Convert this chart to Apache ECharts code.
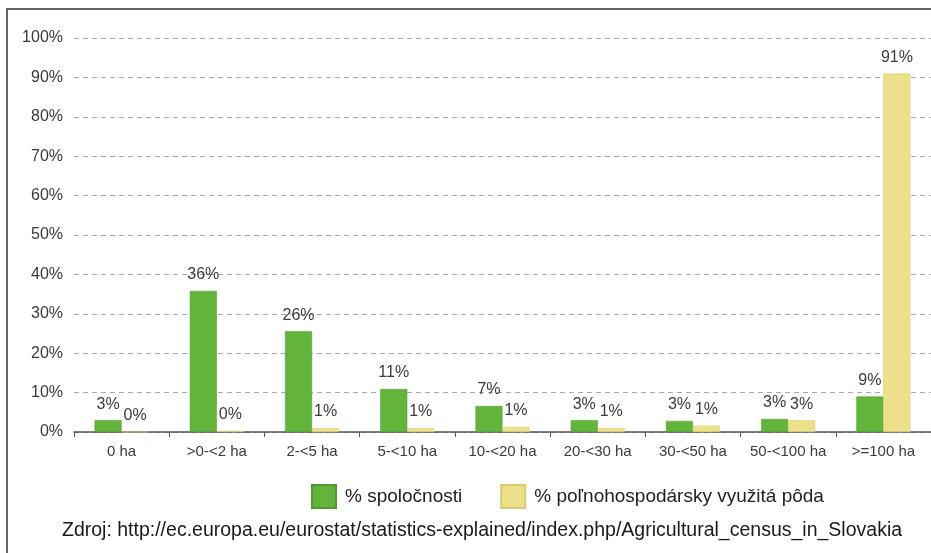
<!DOCTYPE html>
<html style="height: 100%">

<head>
  <meta charset="utf-8">
  <title>Poľnohospodárske podniky podľa veľkosti</title>
</head>

<body style="height: 100%; margin: 0; background: #fff">
  <div id="container" style="width: 931px; height: 553px"></div>
  <script type="text/javascript" src="https://cdn.jsdelivr.net/npm/echarts@6/dist/echarts.min.js"></script>
  <script type="text/javascript">
    // dáta
    const categories = ['0 ha', '>0-<2 ha', '2-<5 ha', '5-<10 ha', '10-<20 ha', '20-<30 ha', '30-<50 ha', '50-<100 ha', '>=100 ha'];
    const spolocnosti = [3.0, 35.8, 25.6, 10.9, 6.6, 3.0, 2.8, 3.3, 9.0];
    const spolocnostiLabels = ['3%', '36%', '26%', '11%', '7%', '3%', '3%', '3%', '9%'];
    const poda = [0, 0.3, 1.0, 1.0, 1.3, 1.0, 1.6, 3.0, 91.0];
    const podaLabels = ['0%', '0%', '1%', '1%', '1%', '1%', '1%', '3%', '91%'];
    const yTicks = ['0%', '10%', '20%', '30%', '40%', '50%', '60%', '70%', '80%', '90%', '100%'];

    const font = 'Liberation Sans, Arial, sans-serif';
    let myChart = echarts.init(document.getElementById('container'));

    const labelOf = (arr) => ({
      show: true,
      position: 'top',
      distance: 8,
      fontFamily: font,
      fontSize: 16,
      color: '#3a3a3a',
      formatter: (p) => arr[p.dataIndex]
    });

    let option = {
      animation: false,
      grid: {
        left: 74,
        top: 38,
        width: 865,
        height: 394
      },
      legend: {
        data: ['% spoločnosti', '% poľnohospodársky využitá pôda'],
        left: 306,
        top: 479,
        itemWidth: 24,
        itemHeight: 23,
        itemGap: 38,
        icon: 'rect',
        textStyle: {
          fontFamily: font,
          fontSize: 19,
          color: '#222',
          padding: [0, 0, 0, 4]
        }
      },
      graphic: [
        {
          type: 'rect',
          silent: true,
          shape: { x: 7, y: 9, width: 940, height: 560 },
          style: { fill: 'none', stroke: '#333', lineWidth: 1.5 }
        },
        {
          type: 'text',
          left: 62,
          top: 521,
          style: {
            text: 'Zdroj: http://ec.europa.eu/eurostat/statistics-explained/index.php/Agricultural_census_in_Slovakia',
            fontFamily: font,
            fontSize: 19.5,
            fill: '#1a1a1a'
          }
        }
      ],
      xAxis: {
        type: 'category',
        data: categories,
        axisLine: { lineStyle: { color: '#555', width: 1.5 } },
        axisTick: { show: true, length: 5, lineStyle: { color: '#555' } },
        axisLabel: {
          interval: 0,
          hideOverlap: false,
          fontFamily: font,
          fontSize: 15,
          color: '#3a3a3a',
          margin: 12
        },
        splitLine: { show: false }
      },
      yAxis: {
        type: 'value',
        min: 0,
        max: 100,
        interval: 10,
        axisLine: { show: false },
        axisTick: { show: false },
        axisLabel: {
          fontFamily: font,
          fontSize: 16,
          color: '#3a3a3a',
          margin: 11,
          formatter: (v) => yTicks[Math.round(v / 10)]
        },
        splitLine: { lineStyle: { color: '#aaa', type: [5, 4] } }
      },
      series: [
        {
          name: '% spoločnosti',
          type: 'bar',
          data: spolocnosti,
          barWidth: 27,
          barGap: '0%',
          itemStyle: { color: '#62b43a', borderColor: '#4f9a2e', borderWidth: 0.5 },
          label: labelOf(spolocnostiLabels)
        },
        {
          name: '% poľnohospodársky využitá pôda',
          type: 'bar',
          data: poda,
          barWidth: 27,
          itemStyle: { color: '#ede08a', borderColor: '#d9c96c', borderWidth: 0.5 },
          label: labelOf(podaLabels)
        }
      ]
    };

    myChart.setOption(option);
  </script>
</body>

</html>
